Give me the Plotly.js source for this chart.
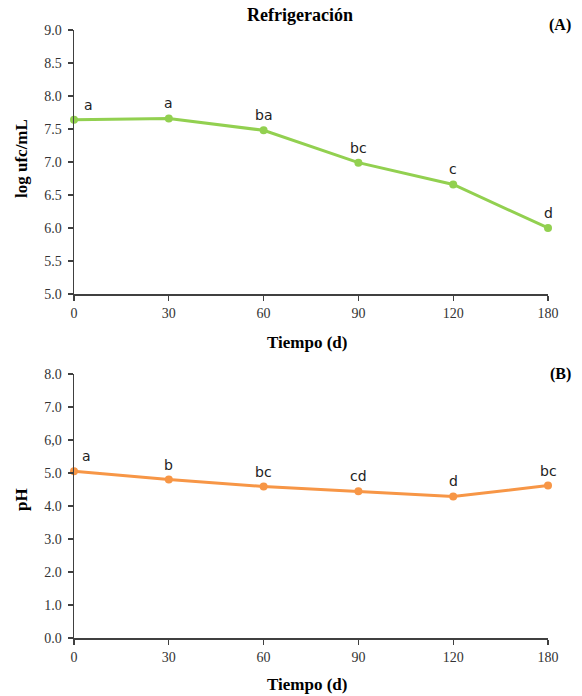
<!DOCTYPE html>
<html><head><meta charset="utf-8">
<script src="https://cdn.plot.ly/plotly-3.0.1.min.js"></script>
<style>html,body{margin:0;padding:0;background:#fff}</style>
</head><body>
<div id="chart" style="width:582px;height:696px"></div>
<script>
const days = ["0","30","60","90","120","180"];
const logUfc = [7.64, 7.66, 7.48, 6.99, 6.66, 6.00];
const logLetters = ["a","a","ba","bc","c","d"];
const ph = [5.05, 4.80, 4.59, 4.45, 4.29, 4.62];
const phLetters = ["a","b","bc","cd","d","bc"];
const topTickVals = [5.0,5.5,6.0,6.5,7.0,7.5,8.0,8.5,9.0];
const topTickText = ["5.0","5.5","6.0","6.5","7.0","7.5","8.0","8.5","9.0"];
const botTickVals = [0,1,2,3,4,5,6,7,8];
const botTickText = ["0.0","1.0","2.0","3.0","4.0","5.0","6,0","7.0","8.0"];

const green = "#92D050", orange = "#F79646";
const serif = "Liberation Serif, Times New Roman, serif";
const H = 696, W = 582;

const traces = [
  {x: days, y: logUfc, type: "scatter", mode: "lines+markers", xaxis: "x", yaxis: "y",
   line: {color: green, width: 3}, marker: {color: green, size: 8}, cliponaxis: false},
  {x: days, y: ph, type: "scatter", mode: "lines+markers", xaxis: "x2", yaxis: "y2",
   line: {color: orange, width: 3}, marker: {color: orange, size: 8}, cliponaxis: false}
];

const annotations = [];
logLetters.forEach((t, i) => annotations.push({
  x: i, y: logUfc[i], xref: "x", yref: "y", text: t, showarrow: false,
  yshift: 15, xshift: i === 0 ? 14 : 0,
  font: {family: "DejaVu Sans, sans-serif", size: 14, color: "#222"}
}));
phLetters.forEach((t, i) => annotations.push({
  x: i, y: ph[i], xref: "x2", yref: "y2", text: t, showarrow: false,
  yshift: 15, xshift: i === 0 ? 12 : 0,
  font: {family: "DejaVu Sans, sans-serif", size: 14, color: "#222"}
}));
function paperText(text, px, py, size, angle) {
  annotations.push({x: px / W, y: 1 - py / H, xref: "paper", yref: "paper", text: text,
    showarrow: false, xanchor: "center", yanchor: "middle", textangle: angle || 0,
    font: {family: serif, size: size, color: "#000"}});
}
paperText("<b>(A)</b>", 560, 25, 16);
paperText("<b>(B)</b>", 560, 374, 16);
paperText("<b>Refrigeración</b>", 300, 15, 18);
paperText("<b>Tiempo (d)</b>", 307, 342, 17);
paperText("<b>Tiempo (d)</b>", 307, 684, 17);
paperText("<b>log ufc/mL</b>", 21, 158, 17, -90);
paperText("<b>pH</b>", 22, 500, 17, -90);

const axisCommon = {
  showgrid: false, zeroline: false, showline: true, linecolor: "#404040", linewidth: 1.5,
  ticks: "outside", ticklen: 5, tickcolor: "#404040", tickwidth: 1.2, ticklabelstandoff: 3,
  tickfont: {family: serif, size: 14, color: "#333"}, automargin: false
};
const xd = [74 / W, 548 / W];

const layout = {
  width: W, height: H,
  margin: {l: 0, r: 0, t: 0, b: 0},
  paper_bgcolor: "#fff", plot_bgcolor: "#fff",
  showlegend: false,
  xaxis: Object.assign({}, axisCommon, {domain: xd, anchor: "y", type: "category", range: [0, 5], ticklabelstandoff: 1}),
  yaxis: Object.assign({}, axisCommon, {domain: [1 - 294 / H, 1 - 30 / H], anchor: "x", range: [5, 9],
    tickvals: topTickVals, ticktext: topTickText}),
  xaxis2: Object.assign({}, axisCommon, {domain: xd, anchor: "y2", type: "category", range: [0, 5], ticklabelstandoff: 1}),
  yaxis2: Object.assign({}, axisCommon, {domain: [1 - 638 / H, 1 - 374 / H], anchor: "x2", range: [0, 8],
    tickvals: botTickVals, ticktext: botTickText}),
  annotations: annotations
};

Plotly.newPlot("chart", traces, layout, {displayModeBar: false, staticPlot: true});
</script>
</body></html>
